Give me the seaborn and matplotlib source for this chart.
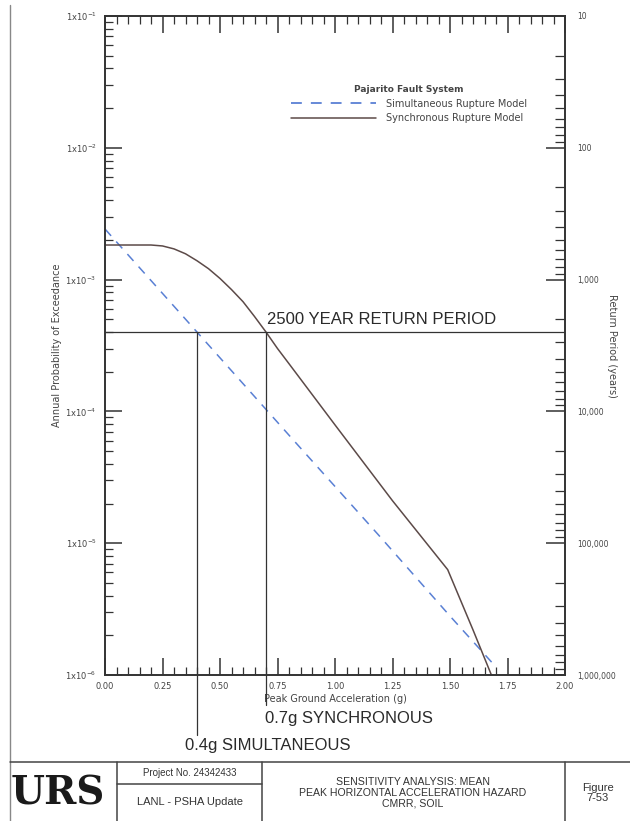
import numpy as np
import pandas as pd
import matplotlib
matplotlib.use("Agg")
import matplotlib.pyplot as plt
import matplotlib.ticker as mticker
from matplotlib.lines import Line2D
import seaborn as sns

# hazard curves
accel_sync = [0.00, 0.10, 0.20, 0.25, 0.30, 0.35, 0.40, 0.45, 0.50, 0.55,
              0.60, 0.65, 0.70, 0.75, 0.80, 1.00, 1.25, 1.49, 1.60, 1.68]
prob_sync = [1.83e-3, 1.83e-3, 1.83e-3, 1.80e-3, 1.71e-3, 1.57e-3, 1.39e-3,
             1.21e-3, 1.02e-3, 8.4e-4, 6.8e-4, 5.25e-4, 4.0e-4, 3.0e-4,
             2.3e-4, 7.9e-5, 2.1e-5, 6.3e-6, 2.2e-6, 1.0e-6]

accel_simul = [0.00, 0.40, 0.80, 1.20, 1.50, 1.70]
prob_simul = [2.42e-3, 4.0e-4, 6.6e-5, 1.1e-5, 2.8e-6, 1.15e-6]

series_names = ["Simultaneous Rupture Model", "Synchronous Rupture Model"]
return_period = 2500
pga_marks = [0.4, 0.7]

x_ticks = [0.00, 0.25, 0.50, 0.75, 1.00, 1.25, 1.50, 1.75, 2.00]
y_ticks = [1e-1, 1e-2, 1e-3, 1e-4, 1e-5, 1e-6]
y_labels = [r"1x10$^{-1}$", r"1x10$^{-2}$", r"1x10$^{-3}$", r"1x10$^{-4}$",
            r"1x10$^{-5}$", r"1x10$^{-6}$"]
rp_ticks = [10, 100, 1000, 10000, 100000, 1000000]

df = pd.concat([
    pd.DataFrame({"pga": accel_simul, "prob": prob_simul, "model": series_names[0]}),
    pd.DataFrame({"pga": accel_sync, "prob": prob_sync, "model": series_names[1]}),
])

sns.set_style("ticks")
plt.rcParams["font.family"] = ["DejaVu Sans"]

W, H = 630, 821
fig = plt.figure(figsize=(W / 100, H / 100), dpi=100)


def fx(px):
    return px / W


def fy(py):
    return 1 - py / H


ax = fig.add_axes([fx(105), fy(675), fx(565) - fx(105), fy(16) - fy(675)])
ax.set_yscale("log")

blue = "#5a80d4"
brown = "#5c4a48"
sns.lineplot(data=df, x="pga", y="prob", hue="model", style="model",
             palette=[blue, brown], dashes=[(6, 5), ""], linewidth=1.1,
             ax=ax, legend=False, sort=False)

# 2500-year return period line and PGA markers
ax.plot([0, 2.0], [1 / return_period] * 2, color="#333333", lw=0.9)
for xm in pga_marks:
    lower = 3.5e-7 if xm < 0.5 else 5.9e-7
    ax.plot([xm, xm], [1 / return_period, lower], color="#333333", lw=0.9,
            clip_on=False)

ax.set_xlim(0, 2.0)
ax.set_ylim(1e-6, 1e-1)
ax.set_xticks(x_ticks)
ax.set_xticklabels([f"{v:.2f}" for v in x_ticks])
ax.xaxis.set_minor_locator(mticker.MultipleLocator(0.05))
ax.set_yticks(y_ticks)
ax.set_yticklabels(y_labels)
ax.yaxis.set_minor_locator(mticker.LogLocator(base=10, subs=np.arange(2, 10)))
ax.yaxis.set_minor_formatter(mticker.NullFormatter())
ax.tick_params(axis="both", which="major", direction="in", length=12,
               width=1.1, color="#333333", labelsize=6, labelcolor="#444444",
               top=True)
ax.tick_params(axis="both", which="minor", direction="in", length=6,
               width=0.9, color="#333333", top=True)
ax.tick_params(axis="x", which="major", pad=5)
ax.tick_params(axis="y", which="major", pad=6)
ax.set_xlabel("Peak Ground Acceleration (g)", fontsize=7, color="#444444",
              labelpad=2)
ax.set_ylabel("Annual Probability of Exceedance", fontsize=7,
              color="#444444")
ax.yaxis.set_label_coords(-0.094, 0.5)
for sp in ax.spines.values():
    sp.set_linewidth(1.2)
    sp.set_color("#333333")

# right axis: return period
ax2 = ax.twinx()
ax2.set_yscale("log")
ax2.set_ylim(1e6, 10)
ax2.set_yticks(rp_ticks)
ax2.set_yticklabels([f"{v:,}" for v in rp_ticks])
ax2.yaxis.set_minor_locator(mticker.LogLocator(base=10, subs=np.arange(2, 10)))
ax2.yaxis.set_minor_formatter(mticker.NullFormatter())
ax2.tick_params(axis="y", which="major", direction="in", length=14, width=1.1,
                color="#333333", labelsize=5.5, labelcolor="#444444", pad=9)
ax2.tick_params(axis="y", which="minor", direction="in", length=7, width=0.9,
                color="#333333")
ax2.set_ylabel("Return Period (years)", fontsize=7, color="#444444",
               rotation=270, va="center")
ax2.yaxis.set_label_coords(1.102, 0.5)
for sp in ax2.spines.values():
    sp.set_linewidth(1.2)
    sp.set_color("#333333")

# legend
handles = [Line2D([], [], color=blue, lw=1.3, ls=(0, (6, 5))),
           Line2D([], [], color=brown, lw=1.1)]
leg = ax.legend(handles, series_names, title="Pajarito Fault System",
                loc="upper right", bbox_to_anchor=(0.932, 0.905),
                frameon=False, fontsize=7, title_fontsize=6.5,
                handlelength=8.8, handletextpad=1.0, labelspacing=0.45,
                borderpad=0.2)
leg.get_title().set_fontweight("bold")
leg.get_title().set_color("#444444")
for t in leg.get_texts():
    t.set_color("#444444")

# handwritten notes
note_kw = dict(fontsize=12, color="#2a2a2a", family="Liberation Sans")
ax.text(0.705, 1 / return_period * 1.1, "2500 YEAR RETURN PERIOD",
        ha="left", va="bottom", **note_kw)
fig.text(fx(265), fy(718), "0.7g SYNCHRONOUS", ha="left", va="center",
         **note_kw)
fig.text(fx(185), fy(745), "0.4g SIMULTANEOUS", ha="left", va="center",
         **note_kw)

# page border and title block
line_kw = dict(color="#444444", lw=1.1, transform=fig.transFigure)
fig.add_artist(Line2D([fx(10), fx(10)], [fy(5), fy(821)], color="#888888",
                      lw=1.0, transform=fig.transFigure))
fig.add_artist(Line2D([fx(10), fx(630)], [fy(762), fy(762)], **line_kw))
for xv in [117, 262, 565]:
    fig.add_artist(Line2D([fx(xv), fx(xv)], [fy(762), fy(821)], **line_kw))
fig.add_artist(Line2D([fx(117), fx(262)], [fy(784), fy(784)], **line_kw))

fig.text(fx(58), fy(793), "URS", ha="center", va="center", fontsize=28,
         fontweight="bold", family="DejaVu Serif", color="#1a1a1a")
fig.text(fx(190), fy(773), "Project No. 24342433", ha="center", va="center",
         fontsize=7, color="#333333", family="Liberation Sans")
fig.text(fx(190), fy(802), "LANL - PSHA Update", ha="center", va="center",
         fontsize=8, color="#333333", family="Liberation Sans")
fig.text(fx(413), fy(793),
         "SENSITIVITY ANALYSIS: MEAN\nPEAK HORIZONTAL ACCELERATION HAZARD\nCMRR, SOIL",
         ha="center", va="center", fontsize=7.6, color="#333333",
         linespacing=1.1, family="Liberation Sans")
fig.text(fx(598), fy(793), "Figure\n7-53", ha="center", va="center",
         fontsize=8, color="#333333", linespacing=1.05,
         family="Liberation Sans")

fig.savefig("out.png", dpi=100, facecolor="white")
